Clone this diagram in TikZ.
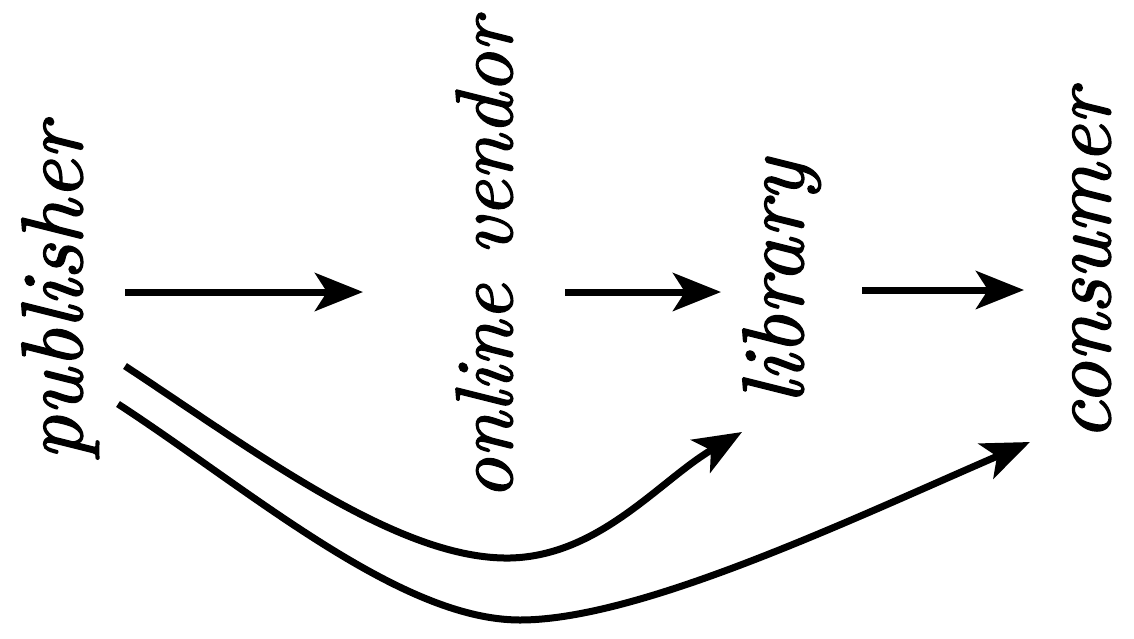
\documentclass[tikz,border=0pt]{standalone}
\usepackage{fontspec}
\newfontfamily\labfont{lmroman10-italic.otf}[FakeBold=1.6]
\usetikzlibrary{arrows.meta}
\begin{document}
\begin{tikzpicture}[x=1pt,y=-1pt,
  lbl/.style={rotate=90,inner sep=0pt,anchor=base,font=\fontsize{87}{96}\labfont},
  arr/.style={line width=7pt,-{Stealth[length=48pt,width=38pt,inset=12pt]}}]
\useasboundingbox (0,0) rectangle (1134,638);
\node[lbl] (pub) at (82,292) {publisher};
\node[lbl,font=\fontsize{81}{90}\labfont] (ov) at (512,259) {online vendor};
\node[lbl] (lib) at (803,282) {library};
\node[lbl,font=\fontsize{85}{94}\labfont] (con) at (1110,265) {consumer};
\coordinate (a1s) at (125,292); \coordinate (a1e) at (363,292);
\coordinate (a2s) at (565,292); \coordinate (a2e) at (721,292);
\coordinate (a3s) at (862,290); \coordinate (a3e) at (1024,290);
\coordinate (c4s) at (125,366); \coordinate (c4m) at (510,558); \coordinate (c4e) at (742,432);
\coordinate (c5s) at (118,404); \coordinate (c5m) at (520,620); \coordinate (c5e) at (1030,442);
\draw[arr] (a1s) -- (a1e);
\draw[arr] (a2s) -- (a2e);
\draw[arr] (a3s) -- (a3e);
\draw[arr] (c4s) .. controls (260,455) and (400,560) .. (c4m) .. controls (600,556) and (660,480) .. (c4e);
\draw[arr] (c5s) .. controls (250,490) and (400,620) .. (c5m) .. controls (640,620) and (850,520) .. (c5e);
\end{tikzpicture}
\end{document}
